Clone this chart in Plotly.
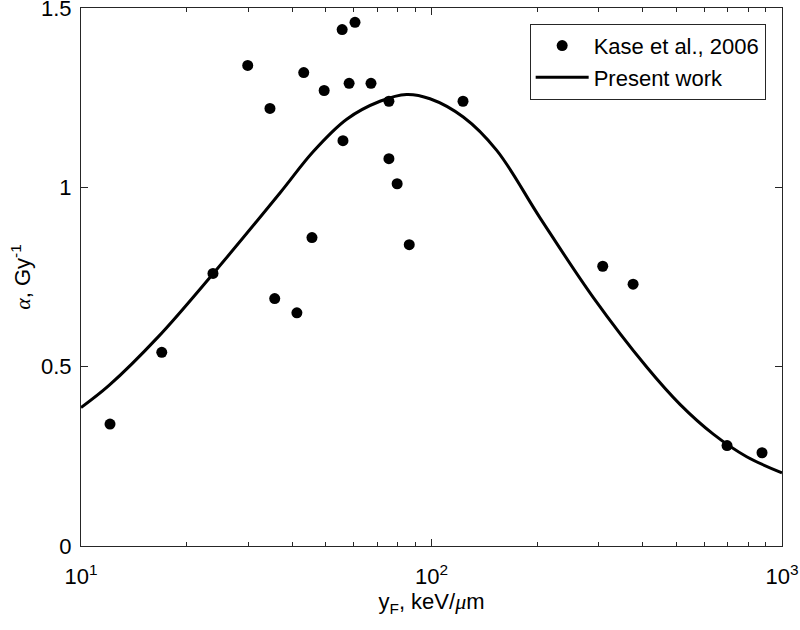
import plotly.graph_objects as go

# Experimental data (Kase et al., 2006)
kase_yF = [12.1, 17.0, 23.8, 29.9, 34.6, 35.7, 41.3, 43.2, 45.6, 49.4, 55.6, 55.9,
           58.2, 60.5, 67.2, 75.6, 75.6, 79.8, 86.4, 123, 308, 376, 697, 877]
kase_alpha = [0.34, 0.54, 0.76, 1.34, 1.22, 0.69, 0.65, 1.32, 0.86, 1.27, 1.44, 1.13,
              1.29, 1.46, 1.29, 1.24, 1.08, 1.01, 0.84, 1.24, 0.78, 0.73, 0.28, 0.26]

# Present work curve
model_yF = [10.0, 12.0, 16.6, 23.85, 37.0, 46.0, 57.3, 71.3, 84.9, 99.0,
            123.2, 153.5, 204.0, 288.9, 411.1, 511.7, 636.8, 793, 1000]
model_alpha = [0.386, 0.447, 0.583, 0.760, 0.985, 1.100, 1.190, 1.240, 1.259, 1.247,
               1.196, 1.103, 0.915, 0.694, 0.499, 0.395, 0.312, 0.249, 0.204]

x_tickvals = [10, 100, 1000]
x_ticktext = ["10<sup>1</sup>", "10<sup>2</sup>", "10<sup>3</sup>"]
x_minor = [20, 30, 40, 50, 60, 70, 80, 90, 200, 300, 400, 500, 600, 700, 800, 900]
y_tickvals = [0, 0.5, 1, 1.5]
y_ticktext = ["0", "0.5", "1", "1.5"]

FONT = "Liberation Sans, Arial, Helvetica, sans-serif"
AX = "#262626"

fig = go.Figure()
fig.add_trace(go.Scatter(
    x=kase_yF, y=kase_alpha, mode="markers", name="Kase et al., 2006",
    marker=dict(color="black", size=11, line=dict(width=0)),
))
fig.add_trace(go.Scatter(
    x=model_yF, y=model_alpha, mode="lines", name="Present work",
    line=dict(color="black", width=3, shape="spline", smoothing=1.0),
))

fig.update_layout(
    width=800, height=630,
    margin=dict(l=81, r=18, t=8, b=84),
    paper_bgcolor="white", plot_bgcolor="white",
    font=dict(family=FONT, size=22, color="black"),
    showlegend=True,
    legend=dict(
        x=0.9767, y=0.9707, xanchor="right", yanchor="top",
        bordercolor=AX, borderwidth=1, bgcolor="white",
        font=dict(size=22, color="black"),
        tracegroupgap=0, itemwidth=53,
    ),
    xaxis=dict(
        type="log", range=[1, 3], automargin=False,
        tickvals=x_tickvals, ticktext=x_ticktext,
        ticks="inside", ticklen=7, tickwidth=1, tickcolor=AX,
        showline=True, linecolor=AX, linewidth=1, mirror="ticks",
        showgrid=False, zeroline=False,
        minor=dict(tickvals=x_minor, ticks="inside", ticklen=4, tickcolor=AX, showgrid=False),
        title=dict(text="y<sub>F</sub>, keV/<span style='font-family:Liberation Serif'><i>μ</i></span>m",
                   font=dict(size=22), standoff=3),
        tickfont=dict(size=22),
        ticklabelstandoff=11,
        ticklabeloverflow="allow",
    ),
    yaxis=dict(
        range=[0, 1.5], automargin=False,
        tickvals=y_tickvals, ticktext=y_ticktext,
        ticks="inside", ticklen=7, tickwidth=1, tickcolor=AX,
        showline=True, linecolor=AX, linewidth=1, mirror="ticks",
        showgrid=False, zeroline=False,
        title=dict(text="<span style='font-family:Liberation Serif'><i>α</i></span>, Gy<sup>-1</sup>",
                   font=dict(size=22), standoff=4),
        tickfont=dict(size=22),
        ticklabelstandoff=4,
        ticklabeloverflow="allow",
    ),
)

fig.write_html("out.html", config={"displayModeBar": False},
               post_script="document.body.style.margin='0';")
